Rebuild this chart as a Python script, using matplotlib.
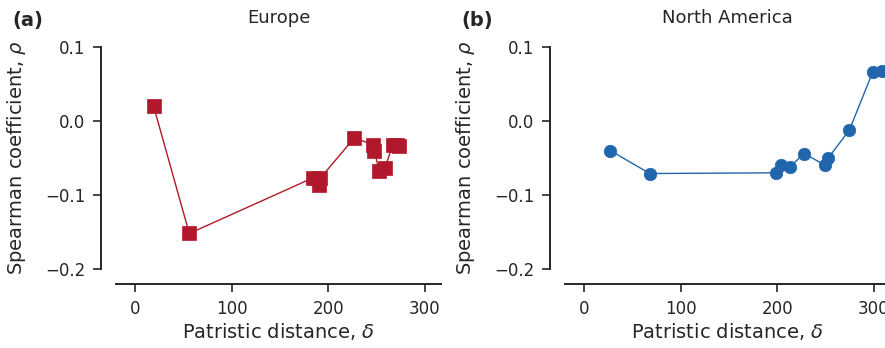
import matplotlib
matplotlib.use("Agg")
import matplotlib.pyplot as plt

# Europe: patristic distance vs Spearman coefficient
eu_dist = [19, 56, 184, 191, 192, 227, 247, 248, 253, 259, 267, 271, 273]
eu_rho = [0.020, -0.152, -0.077, -0.087, -0.077, -0.023, -0.032, -0.041, -0.068, -0.063, -0.032, -0.032, -0.034]

# North America
na_dist = [27, 68, 199, 204, 213, 228, 250, 253, 275, 299, 309, 316]
na_rho = [-0.040, -0.071, -0.070, -0.060, -0.062, -0.044, -0.060, -0.050, -0.012, 0.066, 0.067, 0.066]

titles = ["Europe", "North America"]
panel_labels = ["(a)", "(b)"]
xticks = [0, 100, 200, 300]
yticks = [-0.2, -0.1, 0.0, 0.1]

red = "#B2182B"
blue = "#2166AC"
dark = "#262626"

plt.rcParams['font.family'] = ['DejaVu Sans']
plt.rcParams['text.color'] = dark
plt.rcParams['axes.labelcolor'] = dark
plt.rcParams['xtick.color'] = dark
plt.rcParams['ytick.color'] = dark

fig = plt.figure(figsize=(8.85, 3.48), dpi=100)
W, H = 885, 348
ax1 = fig.add_axes([116 / W, 79 / H, 325 / W, 222 / H])
ax2 = fig.add_axes([565 / W, 79 / H, 325 / W, 222 / H])

ax1.plot(eu_dist, eu_rho, color=red, lw=1.0, marker='s', markersize=9.5,
         markerfacecolor=red, markeredgecolor=red, markeredgewidth=0.5, clip_on=False)
ax2.plot(na_dist, na_rho, color=blue, lw=1.0, marker='o', markersize=9,
         markerfacecolor=blue, markeredgecolor=blue, markeredgewidth=0.5, clip_on=False)

for ax, title, lab in zip([ax1, ax2], titles, panel_labels):
    ax.set_xlim(-20, 317)
    ax.set_ylim(-0.2, 0.1)
    ax.set_xticks(xticks)
    ax.set_yticks(yticks)
    ax.set_yticklabels(["\u22120.2", "\u22120.1", "0.0", "0.1"])
    for s in ['top', 'right']:
        ax.spines[s].set_visible(False)
    for s in ['left', 'bottom']:
        ax.spines[s].set_position(('outward', 11))
        ax.spines[s].set_linewidth(1.4)
        ax.spines[s].set_color(dark)
    ax.tick_params(length=6, width=1.2, labelsize=12, pad=5)
    ax.set_xlabel("Patristic distance, $\\delta$", fontsize=14)
    ax.set_ylabel("Spearman coefficient, $\\rho$", fontsize=14)
    ax.xaxis.set_label_coords(0.5, -0.235)
    ax.yaxis.set_label_coords(-0.27, 0.5)
    ax.text(0.5, 1.13, title, transform=ax.transAxes, ha='center', va='center', fontsize=13)
    ax.text(-0.32, 1.12, lab, transform=ax.transAxes, ha='left', va='center',
            fontsize=14, fontweight='bold')

fig.savefig("out.png", dpi=100)
